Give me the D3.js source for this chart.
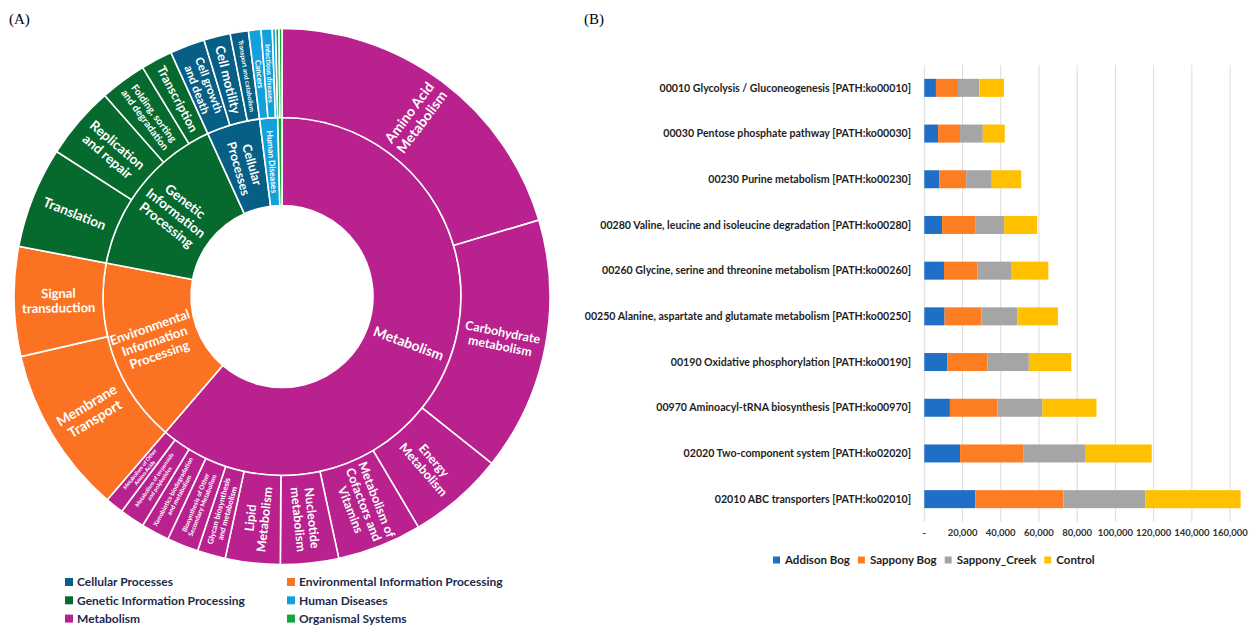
<!DOCTYPE html>
<html><head><meta charset="utf-8">
<script src="https://cdn.jsdelivr.net/npm/d3@7"></script>
<style>body{margin:0;background:#fff} svg{display:block}</style>
</head><body>
<svg id="c" width="1251" height="625"></svg>
<script>
// ---------- Panel A data (share of annotated genes, %) ----------
const topNames = ["Metabolism","Environmental Information Processing","Genetic Information Processing","Cellular Processes","Human Diseases","Organismal Systems"];
const subNames = ["Amino Acid Metabolism","Carbohydrate metabolism","Energy Metabolism","Metabolism of Cofactors and Vitamins","Nucleotide metabolism","Lipid Metabolism","Glycan biosynthesis and metabolism","Biosynthesis of Other Secondary Metabolism","Xenobiotics biodegradation and metabolism","Metabolism of terpenoids and polyketides","Metabolism of Other Amino Acids",
  "Membrane Transport","Signal transduction",
  "Translation","Replication and repair","Folding, sorting and degradation","Transcription",
  "Cell growth and death","Cell motility","Transport and catabolism",
  "Cancers","Infectious diseases","Drug resistance",
  "Environmental adaptation","Other organismal systems"];
const subParents = ["Metabolism","Metabolism","Metabolism","Metabolism","Metabolism","Metabolism","Metabolism","Metabolism","Metabolism","Metabolism","Metabolism",
  "Environmental Information Processing","Environmental Information Processing",
  "Genetic Information Processing","Genetic Information Processing","Genetic Information Processing","Genetic Information Processing",
  "Cellular Processes","Cellular Processes","Cellular Processes",
  "Human Diseases","Human Diseases","Human Diseases",
  "Organismal Systems","Organismal Systems"];
const subValues = [20.4,15.3,5.8,5.1,3.5,3.3,1.7,1.9,1.7,1.5,1.1,
  10.1,6.6,
  6.1,4.4,2.8,1.9,
  2.1,1.6,1.1,
  0.75,0.67,0.2,
  0.2,0.18];
const legendA = ["Cellular Processes","Environmental Information Processing","Genetic Information Processing","Human Diseases","Metabolism","Organismal Systems"];

// ---------- Panel B data ----------
const categories = ["00010 Glycolysis / Gluconeogenesis [PATH:ko00010]","00030 Pentose phosphate pathway [PATH:ko00030]","00230 Purine metabolism [PATH:ko00230]","00280 Valine, leucine and isoleucine degradation [PATH:ko00280]","00260 Glycine, serine and threonine metabolism [PATH:ko00260]","00250 Alanine, aspartate and glutamate metabolism [PATH:ko00250]","00190 Oxidative phosphorylation [PATH:ko00190]","00970 Aminoacyl-tRNA biosynthesis [PATH:ko00970]","02020 Two-component system [PATH:ko02020]","02010 ABC transporters [PATH:ko02010]"];
const seriesNames = ["Addison Bog","Sappony Bog","Sappony_Creek","Control"];
const addisonBog   = [6100, 7200, 7900, 9300,10300,10600,12000,13400,18700,26700];
const sapponyBog   = [11500,11500,14000,17300,17600,19200,21100,24800,33300,46100];
const sapponyCreek = [11200,11900,13400,15200,17500,18800,21600,23600,32100,42800];
const control      = [12900,11500,15400,17300,19500,21300,22200,28300,34900,49900];
const xTicks = [0,20000,40000,60000,80000,100000,120000,140000,160000];

// ---------- styles ----------
const topColors = {"Metabolism":"#b8218e","Environmental Information Processing":"#fb7322","Genetic Information Processing":"#066a2e","Cellular Processes":"#075f86","Human Diseases":"#13a1dc","Organismal Systems":"#12a83c"};
const seriesColors = ["#1f6fc6","#fd7e22","#a5a5a5","#ffc000"];
const labelStyle = {
  "Metabolism":{lines:["Metabolism"],fs:14},
  "Environmental Information Processing":{lines:["Environmental","Information","Processing"],fs:13},
  "Genetic Information Processing":{lines:["Genetic","Information","Processing"],fs:13.5},
  "Cellular Processes":{lines:["Cellular","Processes"],fs:12.5},
  "Human Diseases":{lines:["Human Diseases"],fs:8.5},
  "Amino Acid Metabolism":{lines:["Amino Acid","Metabolism"],fs:14},
  "Carbohydrate metabolism":{lines:["Carbohydrate","metabolism"],fs:12.5},
  "Energy Metabolism":{lines:["Energy","Metabolism"],fs:12.5},
  "Metabolism of Cofactors and Vitamins":{lines:["Metabolism of","Cofactors and","Vitamins"],fs:12.5},
  "Nucleotide metabolism":{lines:["Nucleotide","metabolism"],fs:12.5},
  "Lipid Metabolism":{lines:["Lipid","Metabolism"],fs:12.5},
  "Glycan biosynthesis and metabolism":{lines:["Glycan biosynthesis","and metabolism"],fs:7.8},
  "Biosynthesis of Other Secondary Metabolism":{lines:["Biosynthesis of Other","Secondary Metabolism"],fs:6.5},
  "Xenobiotics biodegradation and metabolism":{lines:["Xenobiotics biodegradation","and metabolism"],fs:6.3},
  "Metabolism of terpenoids and polyketides":{lines:["Metabolism of terpenoids","and polyketides"],fs:5.6},
  "Metabolism of Other Amino Acids":{lines:["Metabolism of Other","Amino Acids"],fs:5.4},
  "Membrane Transport":{lines:["Membrane","Transport"],fs:14},
  "Signal transduction":{lines:["Signal","transduction"],fs:13},
  "Translation":{lines:["Translation"],fs:13.5},
  "Replication and repair":{lines:["Replication","and repair"],fs:13.5},
  "Folding, sorting and degradation":{lines:["Folding, sorting","and degradation"],fs:10},
  "Transcription":{lines:["Transcription"],fs:12.5},
  "Cell growth and death":{lines:["Cell growth","and death"],fs:11.5},
  "Cell motility":{lines:["Cell motility"],fs:13},
  "Transport and catabolism":{lines:["Transport and catabolism"],fs:6.5},
  "Cancers":{lines:["Cancers"],fs:8},
  "Infectious diseases":{lines:["Infectious diseases"],fs:7}
};

const svg = d3.select("#c");
const FONT = "Lato, 'Open Sans', sans-serif";

// panel letters
svg.append("text").attr("x",9).attr("y",24).attr("font-family","'Liberation Serif', serif").attr("font-size",15).text("(A)");
svg.append("text").attr("x",584).attr("y",24).attr("font-family","'Liberation Serif', serif").attr("font-size",15).text("(B)");

// ---------- Sunburst ----------
const cx = 282, cy = 296.5;
const radii = [0, 91, 179, 268];
const rootData = {name:"root", children: topNames.map(t => ({name:t, children: subNames.map((s,i)=>({name:s,parent:subParents[i],value:subValues[i]})).filter(d=>d.parent===t)}))};
const root = d3.hierarchy(rootData).sum(d => d.children ? 0 : d.value);
d3.partition().size([2*Math.PI, 3])(root);
const arc = d3.arc()
  .startAngle(d=>d.x0).endAngle(d=>d.x1)
  .innerRadius(d=>radii[d.depth]).outerRadius(d=>radii[d.depth+1]);
const gA = svg.append("g").attr("transform",`translate(${cx},${cy})`);
const nodes = root.descendants().filter(d=>d.depth>0);
const colorOf = d => topColors[d.depth===1 ? d.data.name : d.parent.data.name];
gA.selectAll("path").data(nodes).join("path")
  .attr("d",arc).attr("fill",colorOf).attr("stroke","#fff").attr("stroke-width",1.6);

nodes.filter(d=>labelStyle[d.data.name]).forEach(d=>{
  const st = labelStyle[d.data.name];
  const a = (d.x0+d.x1)/2, deg = a*180/Math.PI;
  const r = (radii[d.depth]+radii[d.depth+1])/2;
  const x = r*Math.sin(a), y = -r*Math.cos(a);
  const rot = deg < 180 ? deg-90 : deg-270;
  const lh = st.fs*1.12, n = st.lines.length;
  const t = gA.append("text").attr("transform",`translate(${x},${y}) rotate(${rot})`)
    .attr("text-anchor","middle").attr("fill","#fff").attr("font-family",FONT)
    .attr("font-weight",700).attr("font-size",st.fs);
  st.lines.forEach((ln,i)=>{
    t.append("tspan").attr("x",0).attr("y",(i-(n-1)/2)*lh + st.fs*0.35).text(ln);
  });
});

// legend A
legendA.forEach((name,i)=>{
  const col = i%2, row = Math.floor(i/2);
  const x = col===0 ? 65 : 287, y = 582 + row*18.3;
  svg.append("rect").attr("x",x).attr("y",y-4).attr("width",8).attr("height",8).attr("fill",topColors[name]);
  svg.append("text").attr("x",x+12).attr("y",y).attr("dy","0.35em").attr("font-family",FONT)
    .attr("font-weight",700).attr("font-size",12).attr("fill","#1c2a4a").text(name);
});

// ---------- Stacked bars ----------
const x = d3.scaleLinear().domain([0,160000]).range([924.3,1230.1]);
const y = d3.scaleBand().domain(categories).range([65,522]).paddingInner(0.606).paddingOuter(0.303);
const gB = svg.append("g");
gB.selectAll("line.grid").data(xTicks).join("line").attr("class","grid")
  .attr("x1",d=>x(d)).attr("x2",d=>x(d)).attr("y1",65).attr("y2",522)
  .attr("stroke","#dcdcdc").attr("stroke-width",1);
const table = categories.map((c,i)=>({cat:c,"Addison Bog":addisonBog[i],"Sappony Bog":sapponyBog[i],"Sappony_Creek":sapponyCreek[i],"Control":control[i]}));
const stack = d3.stack().keys(seriesNames)(table);
stack.forEach((s,si)=>{
  gB.append("g").attr("fill",seriesColors[si]).selectAll("rect").data(s).join("rect")
    .attr("x",d=>x(d[0])).attr("width",d=>x(d[1])-x(d[0]))
    .attr("y",d=>y(d.data.cat)).attr("height",y.bandwidth());
});
// category labels
gB.selectAll("text.cat").data(categories).join("text").attr("class","cat")
  .attr("x",911).attr("y",d=>y(d)+y.bandwidth()/2).attr("dy","0.35em").attr("text-anchor","end")
  .attr("font-family",FONT).attr("font-weight",700).attr("font-size",10.6).attr("fill","#1e1e1e").text(d=>d);
// tick labels
gB.selectAll("text.tick").data(xTicks).join("text").attr("class","tick")
  .attr("x",d=>x(d)).attr("y",533).attr("dy","0.35em").attr("text-anchor","middle")
  .attr("font-family",FONT).attr("font-weight",700).attr("font-size",9.5).attr("fill","#303030")
  .text(d=>d===0 ? "-" : d3.format(",")(d));
// legend B
let lx = 773;
seriesNames.forEach((name,i)=>{
  svg.append("rect").attr("x",lx).attr("y",556.5).attr("width",7).attr("height",7).attr("fill",seriesColors[i]);
  const t = svg.append("text").attr("x",lx+12).attr("y",560).attr("dy","0.35em").attr("font-family",FONT)
    .attr("font-weight",700).attr("font-size",11.5).attr("fill","#1e1e1e").text(name);
  lx = lx + 12 + t.node().getComputedTextLength() + 8;
});
</script>
</body></html>
